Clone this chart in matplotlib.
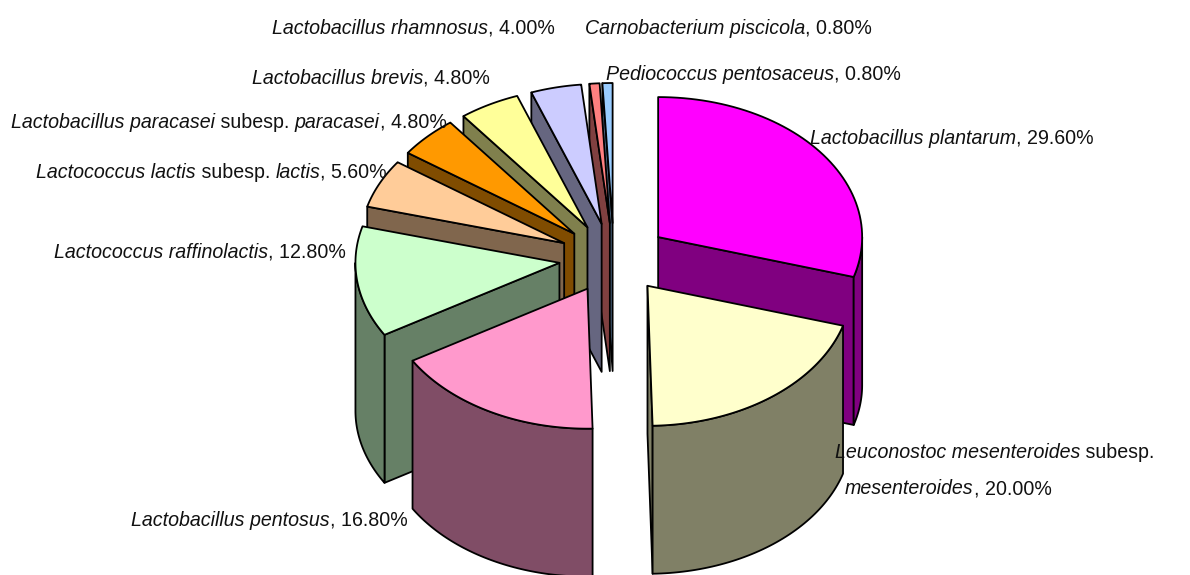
import numpy as np
import matplotlib
matplotlib.use("Agg")
import matplotlib.pyplot as plt
from matplotlib.patches import Polygon

# percentages, clockwise from the top of the pie
names = ["plantarum", "leuconostoc", "pentosus", "raffinolactis", "lactis",
         "paracasei", "brevis", "rhamnosus", "carnobacterium", "pediococcus"]
values = [29.6, 20.0, 16.8, 12.8, 5.6, 4.8, 4.8, 4.0, 0.8, 0.8]
top_colors = ["#FF00FF", "#FFFFCC", "#FF99CC", "#CCFFCC", "#FFCC99",
              "#FF9900", "#FFFF99", "#CCCCFF", "#FF8080", "#99CCFF"]
side_colors = ["#800080", "#808066", "#804D66", "#668066", "#80664D",
               "#804C00", "#80804D", "#666680", "#804040", "#4D6680"]
draw_order = [9, 8, 7, 6, 5, 4, 3, 0, 1, 2]

# label pieces: (text, italic), then left x and centre y in pixels
labels = [
    ([("Lactobacillus rhamnosus", True), (", 4.00%", False)], 272, 26),
    ([("Carnobacterium piscicola", True), (", 0.80%", False)], 585, 26),
    ([("Lactobacillus brevis", True), (", 4.80%", False)], 252, 76),
    ([("Pediococcus pentosaceus", True), (", 0.80%", False)], 606, 72),
    ([("Lactobacillus paracasei", True), (" subesp. ", False), ("paracasei", True), (", 4.80%", False)], 11, 120),
    ([("Lactococcus lactis", True), (" subesp. ", False), ("lactis", True), (", 5.60%", False)], 36, 170),
    ([("Lactococcus raffinolactis", True), (", 12.80%", False)], 54, 250),
    ([("Lactobacillus plantarum", True), (", 29.60%", False)], 810, 136),
    ([("Leuconostoc mesenteroides", True), (" subesp.", False)], 835, 450),
    ([("mesenteroides", True), (", 20.00%", False)], 845, 487),
    ([("Lactobacillus pentosus", True), (", 16.80%", False)], 131, 518),
]

cx, cy = 614, 258
rx, ry = 204, 140
depth = 148
explode_x, explode_y = 0.27, 0.25

plt.rcParams["font.family"] = "Liberation Sans"

fig = plt.figure(figsize=(11.9, 5.75), dpi=100)
ax = fig.add_axes([0, 0, 1, 1])
ax.set_xlim(0, 1190)
ax.set_ylim(575, 0)
ax.axis("off")


def point(x0, y0, a):
    # a in degrees, clockwise from top
    r = np.radians(a)
    return x0 + rx * np.sin(r), y0 - ry * np.cos(r)


def draw_poly(pts, color, z):
    ax.add_patch(Polygon(pts, closed=True, facecolor=color, edgecolor="black",
                         linewidth=1.3, joinstyle="round", zorder=z))


edges = np.concatenate([[0], np.cumsum(values)]) * 3.6

for z, i in enumerate(draw_order):
    a0, a1 = edges[i], edges[i + 1]
    mid = np.radians((a0 + a1) / 2)
    x0 = cx + explode_x * rx * np.sin(mid)
    y0 = cy - explode_y * ry * np.cos(mid)
    z3 = 3 * z

    # cut faces, only the ones that look toward the viewer
    for a, sign in ((a0, -1), (a1, 1)):
        if sign * np.sin(np.radians(a)) > 0.001:
            px, py = point(x0, y0, a)
            draw_poly([(x0, y0), (px, py), (px, py + depth), (x0, y0 + depth)], side_colors[i], z3)

    # outer wall
    lo, hi = max(a0, 90), min(a1, 270)
    if hi > lo:
        t = np.linspace(lo, hi, 60)
        xs, ys = point(x0, y0, t)
        wall = np.column_stack([np.r_[xs, xs[::-1]], np.r_[ys, ys[::-1] + depth]])
        draw_poly(wall, side_colors[i], z3 + 1)

    # top face
    t = np.linspace(a0, a1, 60)
    xs, ys = point(x0, y0, t)
    draw_poly(np.column_stack([np.r_[x0, xs], np.r_[y0, ys]]), top_colors[i], z3 + 2)

fig.canvas.draw()
renderer = fig.canvas.get_renderer()
for pieces, x, y in labels:
    for text, italic in pieces:
        t = ax.text(x, y, text, fontsize=14.1, va="center_baseline", ha="left",
                    style="italic" if italic else "normal", color="#111111", zorder=100)
        x += t.get_window_extent(renderer).width

fig.savefig("out.png", dpi=100)
